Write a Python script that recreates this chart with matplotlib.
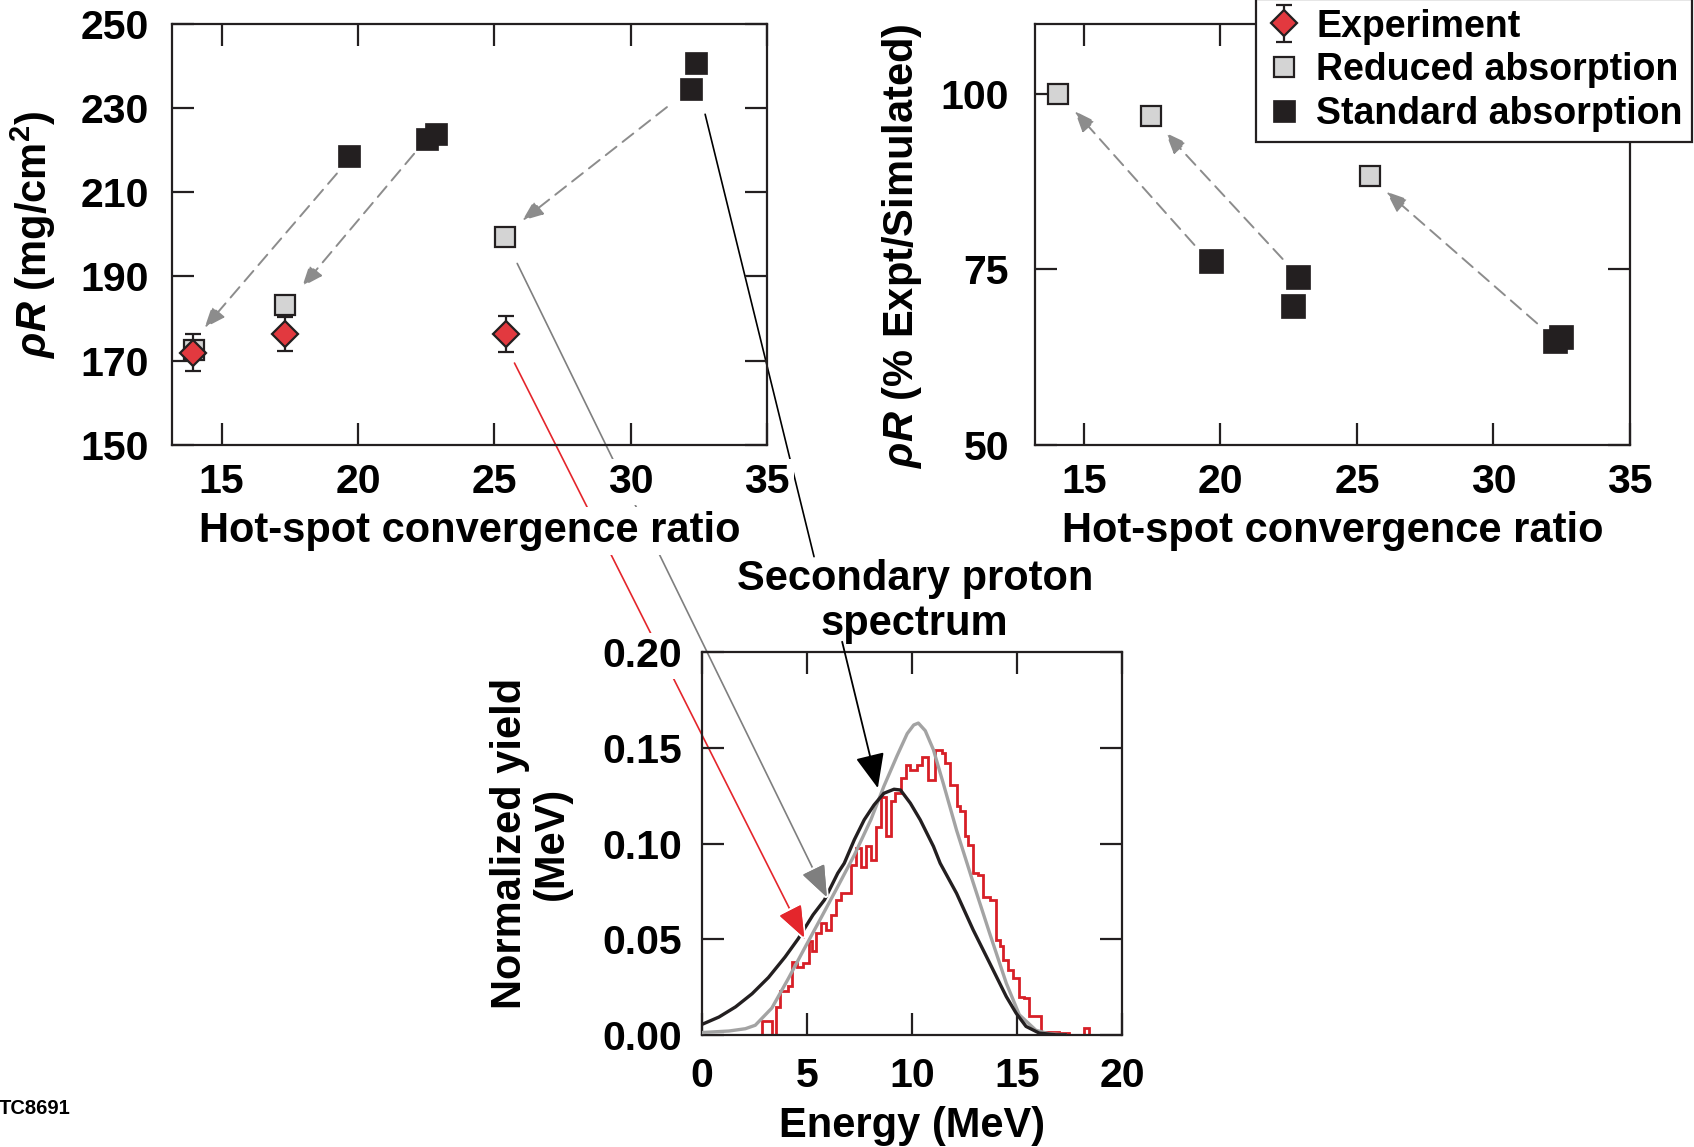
import matplotlib
matplotlib.use("Agg")
import matplotlib.pyplot as plt
import matplotlib.patheffects as pe
from matplotlib.patches import ConnectionPatch
from matplotlib.ticker import FormatStrFormatter

# ---- data: rhoR vs hot-spot convergence ratio ----
conv_expt = [13.96, 17.33, 25.43]
rhoR_expt = [171.9, 176.3, 176.3]
rhoR_err = [4.4, 4.0, 4.3]

conv_reduced = [14.0, 17.33, 25.4]
rhoR_reduced = [172.5, 183.1, 199.5]

conv_standard = [19.66, 22.54, 22.85, 32.2, 32.4]
rhoR_standard = [218.7, 222.8, 223.9, 234.5, 240.7]

# ---- data: rhoR as % of simulated ----
conv_reduced_pct = [14.07, 17.47, 25.48]
pct_reduced = [100.0, 96.9, 88.4]

conv_standard_pct = [19.66, 22.66, 22.83, 32.27, 32.46]
pct_standard = [76.2, 69.8, 73.9, 64.8, 65.3]

# dashed arrows standard -> reduced (start x, start y, end x, end y)
arrows_left = [(19.23, 214.5, 14.38, 177.8),
               (22.06, 219.2, 17.96, 187.6),
               (31.33, 230.3, 26.03, 203.3)]
arrows_right = [(19.05, 78.5, 14.67, 97.6),
                (22.28, 76.5, 18.0, 94.5),
                (31.6, 67.3, 26.08, 86.1)]

# ---- data: secondary proton spectrum ----
energy_reduced = [0, 1.28, 2.06, 2.53, 3.32, 4.11, 4.89, 5.68, 6.46, 7.25, 8.04, 8.66,
                  9.29, 9.77, 10.08, 10.3, 10.63, 11.02, 11.5, 12.12, 12.9, 13.7, 14.49,
                  15.11, 15.9, 16.5, 17.3]
yield_reduced = [0.0012, 0.002, 0.0032, 0.005, 0.014, 0.0295, 0.0455, 0.0615, 0.0775,
                 0.094, 0.1125, 0.130, 0.146, 0.1575, 0.162, 0.163, 0.159, 0.149, 0.131,
                 0.107, 0.080, 0.053, 0.027, 0.0105, 0.0024, 0.0006, 0.0]

energy_standard = [0, 0.8, 1.59, 2.38, 3.16, 3.95, 4.58, 5.28, 5.83, 6.46, 6.77, 7.25,
                   7.72, 8.19, 8.66, 9.14, 9.45, 9.92, 10.39, 11.02, 11.34, 12.12, 12.91,
                   13.7, 14.49, 14.96, 15.43, 16.06, 16.85, 17.3]
yield_standard = [0.0055, 0.0093, 0.0146, 0.0215, 0.030, 0.0407, 0.0503, 0.0627, 0.0706,
                  0.0845, 0.0897, 0.102, 0.1124, 0.1202, 0.1263, 0.1284, 0.128, 0.1211,
                  0.1124, 0.0985, 0.0897, 0.074, 0.0549, 0.0375, 0.020, 0.0113, 0.0044,
                  0.0009, 0.0, 0.0]

expt_edges = [2.85, 3.32, 3.51, 3.71, 4.11, 4.29, 4.50, 4.81, 5.08, 5.24, 5.44, 5.68,
              5.91, 6.15, 6.38, 6.62, 7.09, 7.33, 7.56, 7.80, 8.04, 8.27, 8.51, 8.74,
              8.98, 9.21, 9.45, 9.69, 9.92, 10.24, 10.47, 10.75, 11.08, 11.42, 11.57,
              11.81, 12.12, 12.28, 12.52, 12.67, 12.91, 13.15, 13.38, 13.70, 13.98,
              14.17, 14.33, 14.56, 14.80, 15.11, 15.35, 15.58, 16.13, 17.0, 17.47,
              18.18, 18.41]
expt_yield = [0.0070, 0.0, 0.0148, 0.0227, 0.0253, 0.0383, 0.0357, 0.0375, 0.0488,
              0.0436, 0.0531, 0.0584, 0.0549, 0.0627, 0.0706, 0.0741, 0.0889, 0.0976,
              0.0880, 0.0985, 0.0915, 0.1089, 0.1246, 0.1037, 0.1220, 0.1263, 0.1342,
              0.1412, 0.1386, 0.1412, 0.1455, 0.1333, 0.1490, 0.1473, 0.1421, 0.1308,
              0.1194, 0.1168, 0.1037, 0.0993, 0.0845, 0.0836, 0.0723, 0.0706, 0.0497,
              0.0462, 0.0392, 0.0340, 0.0296, 0.0200, 0.0192, 0.0096, 0.0017, 0.0009,
              0.0, 0.0035]

DARK = "#231f20"
RED = "#e2393f"
HIST_RED = "#d71f27"
LIGHT = "#d4d4d4"
ARROW_GRAY = "#8c8c8c"

plt.rcParams["font.family"] = ["Liberation Sans", "DejaVu Sans"]
plt.rcParams["font.weight"] = "bold"
plt.rcParams["axes.labelweight"] = "bold"
plt.rcParams["mathtext.fontset"] = "custom"
plt.rcParams["mathtext.rm"] = "Liberation Sans:bold"
plt.rcParams["mathtext.it"] = "Liberation Sans:italic:bold"
plt.rcParams["mathtext.bf"] = "Liberation Sans:bold"

fig = plt.figure(figsize=(16.94, 11.47), dpi=100)
ax1 = fig.add_axes([0.1018, 0.6124, 0.3510, 0.3664])
ax2 = fig.add_axes([0.6108, 0.6124, 0.3514, 0.3664])
ax3 = fig.add_axes([0.4145, 0.0978, 0.2478, 0.3335])

WHITE_BOX = dict(facecolor="white", edgecolor="none", pad=3)


def style_axes(ax, xpad, ypad):
    ax.set_facecolor("none")
    for sp in ax.spines.values():
        sp.set_linewidth(1.6)
        sp.set_color(DARK)
    ax.tick_params(direction="in", length=16, width=1.6, color=DARK,
                   top=True, right=True, labelsize=29.5)
    ax.tick_params(axis="x", pad=xpad)
    ax.tick_params(axis="y", pad=ypad)


def arrow(ax, x0, y0, x1, y1):
    ax.annotate("", xy=(x1, y1), xytext=(x0, y0),
                arrowprops=dict(arrowstyle="-|>,head_length=0.8,head_width=0.32",
                                color=ARROW_GRAY, lw=1.4, linestyle=(0, (7, 4)),
                                mutation_scale=16, shrinkA=0, shrinkB=0))


# ---- top-left panel ----
style_axes(ax1, 13, 17)
for x0, y0, x1, y1 in arrows_left:
    arrow(ax1, x0, y0, x1, y1)
h_red, = ax1.plot(conv_reduced, rhoR_reduced, "s", ms=14, mfc=LIGHT, mec=DARK, mew=1.6,
                  ls="none", zorder=3)
h_std, = ax1.plot(conv_standard, rhoR_standard, "s", ms=16, mfc=DARK, mec=DARK, mew=0.5,
                  ls="none", zorder=3)
h_expt = ax1.errorbar(conv_expt, rhoR_expt, yerr=rhoR_err, fmt="D", ms=13.5, mfc=RED,
                      mec=DARK, mew=1.6, ecolor=DARK, elinewidth=1.6, capsize=6,
                      capthick=1.6, zorder=5)
ax1.set_xlim(13.2, 35)
ax1.set_ylim(150, 250)
ax1.set_xticks([15, 20, 25, 30, 35])
ax1.set_yticks([150, 170, 190, 210, 230, 250])
ax1.set_xlabel("Hot-spot convergence ratio", fontsize=30)
ax1.set_ylabel(r"$\rho R$ (mg/cm$^\mathrm{2}$)", fontsize=30)
ax1.xaxis.set_label_coords(0.5, -0.158)
ax1.yaxis.set_label_coords(-0.193, 0.5)

# ---- top-right panel ----
style_axes(ax2, 13, 18.5)
for x0, y0, x1, y1 in arrows_right:
    arrow(ax2, x0, y0, x1, y1)
ax2.plot(conv_reduced_pct, pct_reduced, "s", ms=15, mfc=LIGHT, mec=DARK, mew=1.6,
         ls="none", zorder=3)
ax2.plot(conv_standard_pct, pct_standard, "s", ms=17, mfc=DARK, mec=DARK, mew=0.5,
         ls="none", zorder=3)
ax2.set_xlim(13.2, 35)
ax2.set_ylim(50, 110)
ax2.set_xticks([15, 20, 25, 30, 35])
ax2.set_yticks([50, 75, 100])
ax2.set_xlabel("Hot-spot convergence ratio", fontsize=30)
ax2.set_ylabel(r"$\rho R$ (% Expt/Simulated)", fontsize=30)
ax2.xaxis.set_label_coords(0.5, -0.158)
ax2.yaxis.set_label_coords(-0.186, 0.473)

# ---- bottom spectrum panel ----
style_axes(ax3, 16, 14.5)
ax3.stairs(expt_yield, expt_edges, baseline=0, color=HIST_RED, lw=2.0, zorder=2)
ax3.plot(energy_reduced, yield_reduced, color="#a3a3a3", lw=2.4, zorder=3)
ax3.plot(energy_standard, yield_standard, color=DARK, lw=2.4, zorder=4)
ax3.set_xlim(0, 20)
ax3.set_ylim(0, 0.20)
ax3.set_xticks([0, 5, 10, 15, 20])
ax3.set_yticks([0, 0.05, 0.10, 0.15, 0.20])
ax3.yaxis.set_major_formatter(FormatStrFormatter("%.2f"))
ax3.set_xlabel("Energy (MeV)", fontsize=30)
ax3.set_ylabel("Normalized yield\n(MeV)", fontsize=30, linespacing=1.05)
ax3.xaxis.set_label_coords(0.5, -0.186)
ax3.yaxis.set_label_coords(-0.31, 0.5)

for ax in (ax1, ax2, ax3):
    for lab in ax.get_xticklabels() + ax.get_yticklabels():
        lab.set_bbox(WHITE_BOX)
    ax.xaxis.label.set_bbox(WHITE_BOX)
    ax.yaxis.label.set_bbox(WHITE_BOX)

# connecting lines from the top-left points to the spectrum curves
links = [((25.74, 169.4), (4.86, 0.0508), "#e4262c", (4.21, 0.0648)),
         ((25.84, 193.1), (5.94, 0.072), "#7f7f7f", (5.31, 0.0862)),
         ((32.73, 228.6), (5.33, 0.250), "black", None)]
for start, end, col, back in links:
    con = ConnectionPatch(xyA=start, coordsA=ax1.transData, xyB=end,
                          coordsB=ax3.transData, color=col, lw=1.2, zorder=-1)
    fig.add_artist(con)
    if back is not None:
        head = ax3.annotate("", xy=end, xytext=back, annotation_clip=False,
                            arrowprops=dict(arrowstyle="-|>,head_length=0.9,head_width=0.35",
                                            color=col, lw=1.2, mutation_scale=22,
                                            shrinkA=0, shrinkB=0), zorder=6)
        head.arrow_patch.set_path_effects([pe.withStroke(linewidth=4, foreground="white"),
                                           pe.Normal()])

ax3.annotate("", xy=(8.37, 0.129), xytext=(6.67, 0.2055), annotation_clip=False,
             arrowprops=dict(arrowstyle="-|>,head_length=0.9,head_width=0.38",
                             color="black", lw=1.3, mutation_scale=24,
                             shrinkA=0, shrinkB=0), zorder=6)

fig.text(0.540, 0.4755, "Secondary proton\nspectrum", ha="center", va="center",
         fontsize=30, linespacing=1.17)
fig.text(-0.001, 1 - 1109 / 1147, "TC8691", ha="left", va="center", fontsize=14.5)

leg = fig.legend([h_expt, h_red, h_std],
                 ["Experiment", "Reduced absorption", "Standard absorption"],
                 loc="lower right", bbox_to_anchor=(0.9988, 1 - 141.7 / 1147),
                 fontsize=27, frameon=True, fancybox=False, edgecolor=DARK,
                 framealpha=1, borderpad=0.25, labelspacing=0.21, handlelength=1.0,
                 handletextpad=0.35, borderaxespad=0)
leg.get_frame().set_linewidth(1.6)

fig.savefig("out.png", dpi=100)
